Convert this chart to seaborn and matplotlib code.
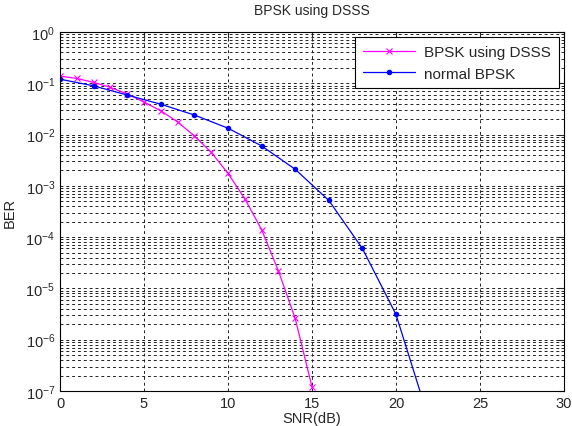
import numpy as np
import pandas as pd
import matplotlib
matplotlib.use("Agg")
import matplotlib.pyplot as plt
import seaborn as sns
from matplotlib.ticker import LogLocator, NullFormatter

# Values
snr_dsss = [0, 1, 2, 3, 4, 5, 6, 7, 8, 9, 10, 11, 12, 13, 14, 15]
ber_dsss = [0.138, 0.124, 0.104, 0.083, 0.062, 0.043, 0.029, 0.0176, 0.0094,
            0.0045, 1.75e-3, 5.6e-4, 1.4e-4, 2.2e-5, 2.6e-6, 1.2e-7]

snr_bpsk = [0, 2, 4, 6, 8, 10, 12, 14, 16, 18, 20, 22]
ber_bpsk = [0.12, 0.089, 0.059, 0.039, 0.024, 0.0133, 6.0e-3, 2.1e-3,
            5.2e-4, 6.0e-5, 3.1e-6, 2.5e-8]

sns.set_style("white")
plt.rcParams['font.family'] = ['Liberation Sans', 'DejaVu Sans']
plt.rcParams['font.size'] = 10

fig = plt.figure(figsize=(5.72, 4.27), dpi=100)
ax = fig.add_axes([0.1049, 0.082, 0.8811, 0.8408])

df1 = pd.DataFrame({'snr': snr_dsss, 'ber': ber_dsss})
df2 = pd.DataFrame({'snr': snr_bpsk, 'ber': ber_bpsk})

sns.lineplot(data=df1, x='snr', y='ber', ax=ax, color='#ff00ff', marker='x',
             markersize=4.5, markeredgewidth=0.8, markeredgecolor='#ff00ff',
             linewidth=0.9, label='BPSK using DSSS')
sns.lineplot(data=df2, x='snr', y='ber', ax=ax, color='#0000ff', marker='o',
             markersize=4, markeredgewidth=0, linewidth=0.9,
             label='normal BPSK')

ax.set_yscale('log')
ax.set_xlim(0, 30)
ax.set_ylim(1e-7, 1e0)
ax.set_xticks([0, 5, 10, 15, 20, 25, 30])
ax.yaxis.set_major_locator(LogLocator(base=10, numticks=10))
ax.yaxis.set_minor_locator(LogLocator(base=10, subs=np.arange(2, 10), numticks=20))
ax.yaxis.set_minor_formatter(NullFormatter())

ax.grid(True, which='major', color='#222222', linestyle=(0, (3, 3)), linewidth=0.7)
ax.grid(True, which='minor', axis='y', color='#222222', linestyle=(0, (3, 3)), linewidth=0.7)

ax.tick_params(which='both', direction='in', top=True, right=True, labelsize=10.5)
ax.tick_params(which='major', length=4)
ax.tick_params(which='minor', length=2)
for s in ax.spines.values():
    s.set_color('black')
    s.set_linewidth(0.8)

ax.set_title("BPSK using DSSS", fontsize=10, pad=13)
ax.set_xlabel("SNR(dB)", fontsize=10.5, labelpad=1)
ax.set_ylabel("BER", fontsize=10.5, labelpad=6)

leg = ax.legend(loc='upper right', fontsize=11, frameon=True, fancybox=False,
                edgecolor='black', framealpha=1, borderaxespad=0.35,
                handlelength=3.4, borderpad=0.5, labelspacing=0.5,
                handletextpad=0.6)
leg.get_frame().set_linewidth(0.8)

fig.savefig("out.png", dpi=100)
